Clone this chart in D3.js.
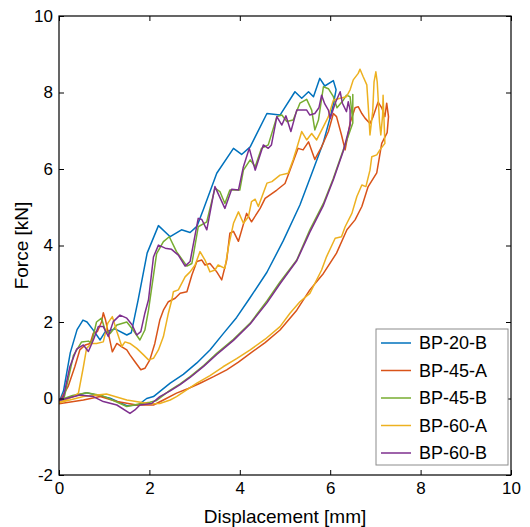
<!DOCTYPE html>
<html><head><meta charset="utf-8">
<script src="https://cdn.jsdelivr.net/npm/d3@7"></script>
<style>body{margin:0;background:#fff}svg{display:block}text{font-family:"Liberation Sans",Arial,Helvetica,sans-serif}</style>
</head><body>
<script>
const xTicks=[0,2,4,6,8,10];
const yTicks=[-2,0,2,4,6,8,10];
const seriesNames=["BP-20-B","BP-45-A","BP-45-B","BP-60-A","BP-60-B"];
const seriesColors=["#0072BD","#D95319","#77AC30","#EDB120","#7E2F8E"];

// [displacement mm, force kN] along each loop
const BP20B=[[0,-0.1],[0.1,0.2],[0.25,1.2],[0.4,1.8],[0.53,2.05],[0.62,2.0],[0.75,1.8],[0.91,1.53],[1.02,1.74],[1.24,1.82],[1.5,1.66],[1.6,1.72],[1.75,2.57],[1.95,3.8],[2.2,4.52],[2.46,4.23],[2.71,4.41],[2.9,4.34],[3.05,4.5],[3.19,4.93],[3.49,5.89],[3.86,6.54],[4.04,6.38],[4.23,6.58],[4.6,7.45],[4.89,7.41],[5.22,8.02],[5.37,7.85],[5.52,8.02],[5.63,7.89],[5.77,8.37],[5.88,8.17],[6.07,8.31],[6.13,8.07],
[6.07,7.7],[6.0,7.35],[5.85,6.7],[5.63,6.0],[5.33,5.06],[4.96,4.12],[4.6,3.3],[4.23,2.64],[3.93,2.12],[3.63,1.69],[3.34,1.27],[3.05,0.93],[2.75,0.63],[2.46,0.4],[2.09,0.05],[1.94,0],[1.75,-0.17],[1.5,-0.19],[1.13,0.01],[0.61,0.15],[0.3,0.05],[0,-0.05]];
const BP45A=[[0,-0.1],[0.2,0.31],[0.35,0.83],[0.46,1.27],[0.58,1.4],[0.69,1.44],[0.76,1.71],[0.85,1.75],[0.94,2.0],[0.98,2.24],[1.03,2.05],[1.18,1.22],[1.28,1.44],[1.39,1.35],[1.5,1.27],[1.57,1.14],[1.68,0.96],[1.81,0.75],[1.9,0.79],[2.01,1.01],[2.12,1.44],[2.23,2.05],[2.31,2.31],[2.42,2.53],[2.57,2.62],[2.68,2.75],[2.83,2.79],[2.94,3.23],[3.05,3.58],[3.16,3.62],[3.23,3.49],[3.34,3.53],[3.49,3.31],[3.6,3.1],[3.71,3.62],[3.78,4.32],[3.86,4.37],[3.97,4.11],[4.15,4.84],[4.26,4.62],[4.45,4.97],[4.56,5.23],[4.82,5.45],[5.0,5.62],[5.11,5.97],[5.22,6.32],[5.29,6.54],[5.4,6.5],[5.52,6.71],[5.66,6.25],[5.81,6.58],[5.96,6.98],[6.07,7.45],[6.14,7.37],[6.25,6.89],[6.33,6.5],[6.44,7.2],[6.55,7.6],[6.62,7.63],[6.7,7.45],[6.77,7.33],[6.88,7.19],[6.95,7.37],[7.06,7.75],[7.14,7.6],[7.21,7.37],[7.25,7.72],[7.29,7.37],
[7.26,6.95],[7.14,6.67],[7.03,5.9],[6.84,5.54],[6.7,5.02],[6.55,4.67],[6.37,4.41],[6.14,3.8],[5.85,3.27],[5.55,2.84],[5.26,2.31],[4.89,1.79],[4.56,1.46],[4.23,1.18],[3.97,0.95],[3.71,0.75],[3.42,0.57],[3.12,0.4],[2.86,0.26],[2.6,0.14],[2.31,-0.04],[2.09,-0.17],[1.72,-0.17],[1.28,-0.08],[0.91,0.05],[0.54,-0.04],[0,-0.14]];
const BP45B=[[0,-0.05],[0.12,0.05],[0.32,1.13],[0.5,1.48],[0.65,1.5],[0.72,1.44],[0.83,2.0],[0.94,2.1],[1.03,1.75],[1.13,1.7],[1.28,1.92],[1.5,2.0],[1.64,1.79],[1.79,1.53],[1.9,1.79],[1.98,2.31],[2.16,3.79],[2.31,4.1],[2.44,4.23],[2.6,3.84],[2.83,3.46],[2.94,3.53],[3.08,4.49],[3.27,4.62],[3.45,5.5],[3.56,5.41],[3.67,5.1],[3.78,5.45],[4.0,5.45],[4.08,5.97],[4.23,6.24],[4.34,6.06],[4.48,6.54],[4.63,6.63],[4.82,7.37],[4.93,7.41],[5.04,7.24],[5.18,7.28],[5.33,7.72],[5.48,7.82],[5.59,7.54],[5.66,7.02],[5.74,7.28],[5.85,8.15],[5.96,8.1],[6.07,7.89],[6.15,7.6],[6.29,7.8],[6.36,7.93],[6.44,7.89],[6.5,7.25],[6.5,7.95],[6.5,7.2],
[6.44,7.0],[6.29,6.5],[6.07,5.76],[5.85,5.1],[5.55,4.41],[5.26,3.62],[4.89,3.05],[4.6,2.55],[4.23,1.97],[3.86,1.55],[3.49,1.18],[3.2,0.86],[2.9,0.57],[2.68,0.38],[2.46,0.22],[2.16,-0.05],[2.01,-0.1],[1.79,-0.14],[1.5,-0.21],[0.97,0.07],[0.61,0.15],[0.3,0.08],[0,-0.05]];
const BP60A=[[0,-0.1],[0.32,0.05],[0.43,0.14],[0.54,0.83],[0.61,1.31],[0.72,1.44],[0.83,1.44],[0.98,1.48],[1.08,1.97],[1.18,2.14],[1.28,1.75],[1.39,1.36],[1.46,1.48],[1.57,1.44],[1.72,1.31],[1.87,1.14],[1.98,1.01],[2.09,1.05],[2.2,1.27],[2.31,1.62],[2.42,2.23],[2.5,2.6],[2.53,2.79],[2.64,2.84],[2.79,3.18],[2.9,3.31],[3.01,3.49],[3.12,3.84],[3.23,3.62],[3.34,3.31],[3.45,3.36],[3.52,3.49],[3.67,3.4],[3.75,3.97],[3.86,4.58],[3.97,4.88],[4.08,4.58],[4.19,4.75],[4.26,5.15],[4.34,5.21],[4.41,5.02],[4.6,5.63],[4.71,5.67],[4.89,5.84],[5.07,5.89],[5.18,6.24],[5.26,6.54],[5.37,6.98],[5.48,6.76],[5.59,6.93],[5.7,6.76],[5.85,7.11],[5.96,7.37],[6.07,7.8],[6.22,7.85],[6.36,7.89],[6.44,8.07],[6.51,8.33],[6.62,8.5],[6.66,8.61],[6.73,8.41],[6.81,8.2],[6.84,7.67],[6.88,6.89],[6.94,7.5],[6.97,8.28],[7.01,8.54],[7.04,8.28],[7.09,7.24],[7.12,6.89],[7.16,7.41],[7.17,7.93],[7.19,7.3],[7.21,6.67],
[7.1,6.5],[7.03,6.37],[6.92,6.32],[6.88,5.97],[6.79,5.54],[6.7,5.58],[6.59,5.28],[6.48,4.84],[6.33,4.49],[6.25,4.23],[6.11,4.19],[5.92,3.71],[5.81,3.36],[5.55,2.75],[5.33,2.53],[5.11,2.23],[4.89,1.88],[4.56,1.55],[4.23,1.27],[3.93,1.04],[3.63,0.83],[3.34,0.6],[3.05,0.4],[2.6,0.05],[2.46,-0.04],[2.23,-0.13],[2.01,-0.14],[1.5,-0.04],[1.05,0.12],[0.54,0.05],[0,-0.11]];
const BP60B=[[0,-0.05],[0.1,0.05],[0.24,0.83],[0.39,1.29],[0.54,1.4],[0.65,1.23],[0.76,1.53],[0.87,1.88],[0.98,1.88],[1.09,1.62],[1.2,2.01],[1.35,2.18],[1.5,2.1],[1.62,1.92],[1.72,1.66],[1.81,1.75],[1.9,2.23],[1.98,2.58],[2.09,3.7],[2.2,4.01],[2.35,3.93],[2.49,3.9],[2.64,3.75],[2.79,3.46],[2.9,3.58],[3.08,4.71],[3.16,4.68],[3.27,4.41],[3.45,5.54],[3.67,4.97],[3.82,5.47],[3.97,5.45],[4.08,6.06],[4.21,6.54],[4.34,5.97],[4.52,6.63],[4.63,6.54],[4.7,6.63],[4.82,7.37],[4.93,7.15],[5.02,7.39],[5.13,6.98],[5.26,7.54],[5.48,7.54],[5.55,7.41],[5.66,7.45],[5.75,7.6],[5.81,7.93],[5.88,7.7],[5.96,7.54],[6.0,7.32],[6.11,7.72],[6.22,8.02],[6.27,7.72],[6.36,7.5],[6.4,7.76],[6.44,7.54],[6.44,7.15],
[6.29,6.47],[6.07,5.72],[5.85,5.05],[5.55,4.35],[5.26,3.6],[4.89,3.0],[4.6,2.5],[4.23,1.95],[3.86,1.52],[3.49,1.15],[3.2,0.84],[2.9,0.55],[2.68,0.36],[2.46,0.2],[2.23,0.05],[2.05,-0.13],[1.79,-0.17],[1.68,-0.3],[1.57,-0.39],[1.28,-0.17],[0.98,-0.08],[0.76,0.05],[0.46,0.09],[0,-0.05]];
const seriesData=[BP20B,BP45A,BP45B,BP60A,BP60B];

const W=530,H=527;
const L=59,R=511,T=16,B=475;
const svg=d3.select("body").append("svg").attr("width",W).attr("height",H);
const x=d3.scaleLinear().domain([0,10]).range([L,R]);
const y=d3.scaleLinear().domain([-2,10]).range([B,T]);

svg.append("defs").append("clipPath").attr("id","clip").append("rect")
  .attr("x",L).attr("y",T).attr("width",R-L).attr("height",B-T);

const line=d3.line().x(d=>x(d[0])).y(d=>y(d[1]));
const g=svg.append("g").attr("clip-path","url(#clip)");
seriesData.forEach((s,i)=>{
  g.append("path").datum(s).attr("d",line).attr("fill","none")
   .attr("stroke",seriesColors[i]).attr("stroke-width",1.5).attr("stroke-linejoin","round");
});

const fmt=d=>String(d);
function styleAxis(sel){
  sel.select(".domain").remove();
  sel.selectAll(".tick line").attr("stroke","#000").attr("stroke-width",1);
  sel.selectAll(".tick text").attr("fill","#000").style("font-size","17px");
}
svg.append("g").attr("transform",`translate(0,${B})`)
  .call(d3.axisBottom(x).tickValues(xTicks).tickSizeInner(-5).tickSizeOuter(0).tickPadding(7).tickFormat(fmt))
  .call(styleAxis);
svg.append("g").attr("transform",`translate(0,${T})`)
  .call(d3.axisTop(x).tickValues(xTicks).tickSizeInner(-5).tickSizeOuter(0).tickFormat(""))
  .call(styleAxis);
svg.append("g").attr("transform",`translate(${L},0)`)
  .call(d3.axisLeft(y).tickValues(yTicks).tickSizeInner(-5).tickSizeOuter(0).tickPadding(6).tickFormat(fmt))
  .call(styleAxis);
svg.append("g").attr("transform",`translate(${R},0)`)
  .call(d3.axisRight(y).tickValues(yTicks).tickSizeInner(-5).tickSizeOuter(0).tickFormat(""))
  .call(styleAxis);

svg.append("rect").attr("x",L).attr("y",T).attr("width",R-L).attr("height",B-T)
  .attr("fill","none").attr("stroke","#000").attr("stroke-width",1.2);

svg.append("text").attr("x",(L+R)/2).attr("y",523).attr("text-anchor","middle")
  .style("font-size","19px").attr("fill","#000").text("Displacement [mm]");
svg.append("text").attr("transform",`translate(28,${(T+B)/2}) rotate(-90)`).attr("text-anchor","middle")
  .style("font-size","19px").attr("fill","#000").text("Force [kN]");

const lg=svg.append("g");
lg.append("rect").attr("x",376).attr("y",329).attr("width",132).attr("height",136)
  .attr("fill","#fff").attr("stroke","#8c8c8c").attr("stroke-width",1);
seriesNames.forEach((n,i)=>{
  const yy=343+i*27.5;
  lg.append("line").attr("x1",381).attr("x2",411).attr("y1",yy).attr("y2",yy)
    .attr("stroke",seriesColors[i]).attr("stroke-width",1.5);
  lg.append("text").attr("x",419).attr("y",yy).attr("dy","0.36em")
    .style("font-size","18px").attr("fill","#000").text(n);
});
</script>
</body></html>
